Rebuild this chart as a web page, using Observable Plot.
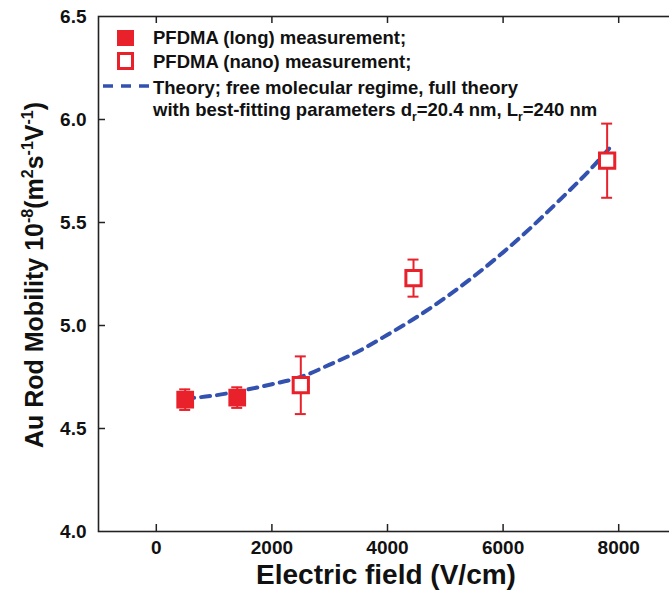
<!DOCTYPE html>
<html>
<head>
<meta charset="utf-8">
<script src="https://cdn.jsdelivr.net/npm/d3@7"></script>
<script src="https://cdn.jsdelivr.net/npm/@observablehq/plot@0.6"></script>
<style>
  html, body { margin: 0; padding: 0; background: #fff; overflow: hidden; width: 669px; height: 604px; }
  #chart { position: relative; width: 669px; height: 604px; overflow: hidden; }
  #chart svg { max-width: none !important; font-family: "Liberation Sans", Arial, sans-serif; }
</style>
</head>
<body>
<div id="chart"></div>
<script>
// ---- data ----
const longX = [500, 1400];
const longY = [4.64, 4.65];
const longErr = [0.05, 0.05];

const nanoX = [2500, 4450, 7800];
const nanoY = [4.71, 5.23, 5.80];
const nanoErr = [0.14, 0.09, 0.18];

const theoryX = [500, 1000, 1500, 2000, 2500, 3000, 3500, 4000, 4500, 5000, 5500, 6000, 6500, 7000, 7500, 7900];
const theoryY = [4.645, 4.66, 4.685, 4.715, 4.75, 4.81, 4.875, 4.955, 5.04, 5.135, 5.24, 5.355, 5.48, 5.615, 5.755, 5.88];

const xTicks = [0, 2000, 4000, 6000, 8000];
const yTicks = [4.0, 4.5, 5.0, 5.5, 6.0, 6.5];
const yInnerTicks = [4.5, 5.0, 5.5, 6.0];

const xTitle = "Electric field (V/cm)";

// ---- build tables ----
const longData = longX.map((x, i) => ({x, y: longY[i], e: longErr[i]}));
const nanoData = nanoX.map((x, i) => ({x, y: nanoY[i], e: nanoErr[i]}));
const allData = longData.concat(nanoData);
const theory = theoryX.map((x, i) => ({x, y: theoryY[i]}));

const RED = "#e8212b";
const BLUE = "#3352b0";
const CAP = 95;

const plot = Plot.plot({
  width: 676,
  height: 604,
  marginLeft: 98,
  marginRight: 0,
  marginTop: 16,
  marginBottom: 73,
  style: {fontFamily: "Liberation Sans, Arial, sans-serif", background: "#fff", maxWidth: "none"},
  x: {domain: [-1000, 9000]},
  y: {domain: [4.0, 6.5]},
  marks: [
    Plot.axisX({ticks: xTicks, tickSize: 0, tickPadding: 9, fontSize: 19, fontWeight: "bold", label: null, tickFormat: d3.format("d"), fill: "#111"}),
    Plot.axisY({ticks: yTicks, tickSize: 0, tickPadding: 12, fontSize: 19, fontWeight: "bold", label: null, tickFormat: d3.format(".1f"), fill: "#111"}),
    // inward ticks
    Plot.ruleX(xTicks, {x: d => d, y1: 4.0, y2: 4.0, insetBottom: 7, stroke: "#222", strokeWidth: 1.5}),
    Plot.ruleX(xTicks, {x: d => d, y1: 6.5, y2: 6.5, insetTop: 7, stroke: "#222", strokeWidth: 1.5}),
    Plot.ruleY(yInnerTicks, {y: d => d, x1: -1000, x2: -1000, insetLeft: 7, stroke: "#222", strokeWidth: 1.5}),
    Plot.frame({stroke: "#222", strokeWidth: 1.6}),
    Plot.line(theory, {x: "x", y: "y", stroke: BLUE, strokeWidth: 4, strokeDasharray: "9,7", curve: "monotone-x"}),
    Plot.ruleX(allData, {x: "x", y1: d => d.y - d.e, y2: d => d.y + d.e, stroke: RED, strokeWidth: 2}),
    Plot.ruleY(allData, {y: d => d.y + d.e, x1: d => d.x - CAP, x2: d => d.x + CAP, stroke: RED, strokeWidth: 2}),
    Plot.ruleY(allData, {y: d => d.y - d.e, x1: d => d.x - CAP, x2: d => d.x + CAP, stroke: RED, strokeWidth: 2}),
    Plot.dot(longData, {x: "x", y: "y", symbol: "square", r: 10, fill: RED, stroke: "none"}),
    Plot.dot(nanoData, {x: "x", y: "y", symbol: "square", r: 8.6, fill: "#fff", stroke: RED, strokeWidth: 3})
  ]
});

document.getElementById("chart").appendChild(plot);

const svg = d3.select(plot);
const font = "Liberation Sans, Arial, sans-serif";

// x title
svg.append("text")
  .attr("x", 386).attr("y", 584)
  .attr("text-anchor", "middle")
  .attr("font-family", font).attr("font-weight", "bold").attr("font-size", 28)
  .attr("fill", "#111")
  .text(xTitle);

// y title with superscripts
const yt = svg.append("text")
  .attr("transform", "translate(43,275) rotate(-90)")
  .attr("text-anchor", "middle")
  .attr("font-family", font).attr("font-weight", "bold").attr("font-size", 25)
  .attr("fill", "#111");
yt.append("tspan").text("Au Rod Mobility 10");
yt.append("tspan").attr("font-size", 16).attr("dy", -10).text("-8");
yt.append("tspan").attr("dy", 10).text("(m");
yt.append("tspan").attr("font-size", 16).attr("dy", -10).text("2");
yt.append("tspan").attr("dy", 10).text("s");
yt.append("tspan").attr("font-size", 16).attr("dy", -10).text("-1");
yt.append("tspan").attr("dy", 10).text("V");
yt.append("tspan").attr("font-size", 16).attr("dy", -10).text("-1");
yt.append("tspan").attr("dy", 10).text(")");

// legend
const lg = svg.append("g").attr("font-family", font).attr("font-weight", "bold").attr("font-size", 18.5).attr("fill", "#111").attr("text-anchor", "start");
lg.append("rect").attr("x", 117).attr("y", 30).attr("width", 17).attr("height", 16).attr("fill", RED);
lg.append("rect").attr("x", 118.5).attr("y", 53.5).attr("width", 14).attr("height", 15).attr("fill", "#fff").attr("stroke", RED).attr("stroke-width", 3);
lg.append("line").attr("x1", 103).attr("x2", 152).attr("y1", 86).attr("y2", 86).attr("stroke", BLUE).attr("stroke-width", 3.5).attr("stroke-dasharray", "10,8");
lg.append("text").attr("x", 153).attr("y", 44).text("PFDMA (long) measurement;");
lg.append("text").attr("x", 153).attr("y", 68).text("PFDMA (nano) measurement;");
lg.append("text").attr("x", 153).attr("y", 94).text("Theory; free molecular regime, full theory");
const l4 = lg.append("text").attr("x", 153).attr("y", 116);
l4.append("tspan").text("with best-fitting parameters d");
l4.append("tspan").attr("font-size", 12).attr("dy", 5).text("r");
l4.append("tspan").attr("dy", -5).text("=20.4 nm, L");
l4.append("tspan").attr("font-size", 12).attr("dy", 5).text("r");
l4.append("tspan").attr("dy", -5).text("=240 nm");
</script>
</body>
</html>
